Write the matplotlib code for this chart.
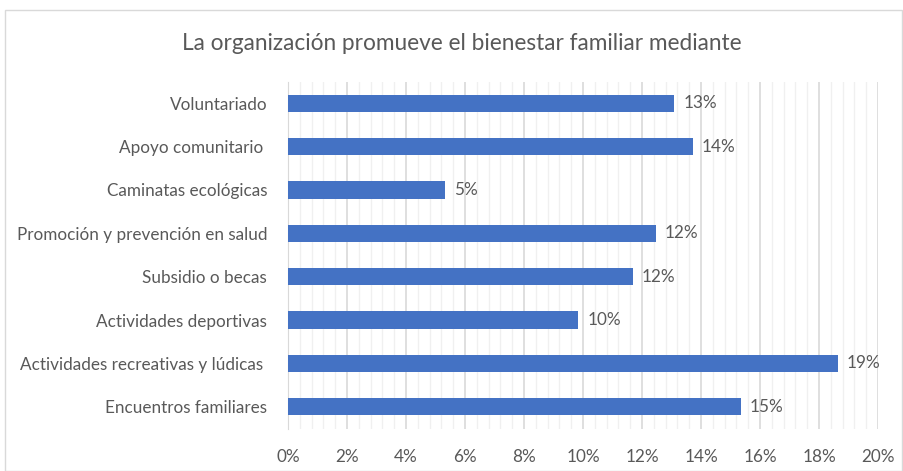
import matplotlib.pyplot as plt
from matplotlib.patches import Rectangle
from matplotlib.ticker import MultipleLocator, FuncFormatter

# Data (bottom to top as drawn)
categories = [
    "Encuentros familiares",
    "Actividades recreativas y lúdicas ",
    "Actividades deportivas",
    "Subsidio o becas",
    "Promoción y prevención en salud",
    "Caminatas ecológicas",
    "Apoyo comunitario ",
    "Voluntariado",
]
values = [15.36, 18.63, 9.84, 11.68, 12.48, 5.33, 13.73, 13.10]

TEXT = "#595959"
BAR = "#4472C4"

plt.rcParams['font.family'] = ['Lato', 'DejaVu Sans']

W, H = 904, 471
fig = plt.figure(figsize=(W / 100, H / 100), dpi=100)

# outer chart frame
fig.patches.append(Rectangle((5 / W, 0), (W - 7) / W, (H - 10) / H,
                             transform=fig.transFigure, fill=False,
                             edgecolor="#d9d9d9", linewidth=1))

left, right, top, bottom = 288, 878, 81.5, 428.5
ax = fig.add_axes([left / W, 1 - bottom / H, (right - left) / W, (bottom - top) / H])

y = range(len(categories))
ax.barh(y, values, height=0.4, color=BAR, zorder=3)

for yi, v in zip(y, values):
    ax.text(v + 0.3, yi, f"{round(v):.0f}%", va="center", ha="left",
            fontsize=12.3, color=TEXT)

ax.set_xlim(0, 20)
ax.set_ylim(-0.5, len(categories) - 0.5)
ax.set_yticks(list(y))
ax.set_yticklabels(categories)
ax.xaxis.set_major_locator(MultipleLocator(2))
ax.xaxis.set_minor_locator(MultipleLocator(0.4))
ax.xaxis.set_major_formatter(FuncFormatter(lambda x, p: f"{x:.0f}%"))

ax.grid(axis="x", which="major", color="#d9d9d9", linewidth=1.2, zorder=0)
ax.grid(axis="x", which="minor", color="#f0f0f0", linewidth=1, zorder=0)
ax.set_axisbelow(True)

for s in ["top", "right", "bottom"]:
    ax.spines[s].set_visible(False)
ax.spines["left"].set_color("#d9d9d9")

ax.tick_params(axis="both", which="both", length=0, colors=TEXT, labelsize=12.3)
ax.tick_params(axis="y", pad=15)
ax.tick_params(axis="x", pad=15)

fig.text(0.5 * (183 + 741) / W, 1 - 44 / H,
         "La organización promueve el bienestar familiar mediante",
         ha="center", va="center", fontsize=16.3, color=TEXT)

fig.savefig("out.png", dpi=100, facecolor="white")
